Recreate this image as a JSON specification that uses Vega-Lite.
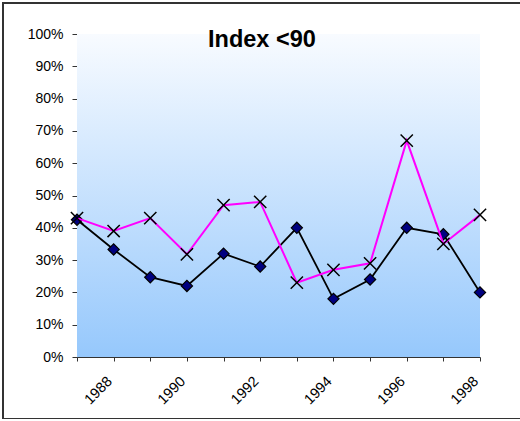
{
  "$schema": "https://vega.github.io/schema/vega-lite/v6.json",
  "width": 521,
  "height": 416,
  "padding": {"left": 3, "top": 3, "right": 0, "bottom": 0},
  "autosize": "none",
  "title": {
    "text": "Index <90",
    "font": "Liberation Sans",
    "fontSize": 23.5,
    "fontWeight": "bold",
    "color": "#000000",
    "anchor": "start",
    "dx": 205,
    "frame": "group",
    "baseline": "alphabetic",
    "offset": -67
  },
  "config": {
    "view": {"stroke": "#333333", "strokeWidth": 2, "fill": "#ffffff"},
    "axis": {
      "labelFont": "Liberation Sans",
      "labelFontSize": 14,
      "labelColor": "#000000",
      "domainColor": "#333333",
      "tickColor": "#333333",
      "grid": false,
      "title": null
    }
  },
  "data": {
    "values": [
      {"year": 1987, "series": "A", "value": 0.425},
      {"year": 1988, "series": "A", "value": 0.333},
      {"year": 1989, "series": "A", "value": 0.247},
      {"year": 1990, "series": "A", "value": 0.22},
      {"year": 1991, "series": "A", "value": 0.32},
      {"year": 1992, "series": "A", "value": 0.28},
      {"year": 1993, "series": "A", "value": 0.40},
      {"year": 1994, "series": "A", "value": 0.18},
      {"year": 1995, "series": "A", "value": 0.24},
      {"year": 1996, "series": "A", "value": 0.40},
      {"year": 1997, "series": "A", "value": 0.38},
      {"year": 1998, "series": "A", "value": 0.20},
      {"year": 1987, "series": "B", "value": 0.43},
      {"year": 1988, "series": "B", "value": 0.39},
      {"year": 1989, "series": "B", "value": 0.43},
      {"year": 1990, "series": "B", "value": 0.318},
      {"year": 1991, "series": "B", "value": 0.47},
      {"year": 1992, "series": "B", "value": 0.48},
      {"year": 1993, "series": "B", "value": 0.23},
      {"year": 1994, "series": "B", "value": 0.27},
      {"year": 1995, "series": "B", "value": 0.29},
      {"year": 1996, "series": "B", "value": 0.67},
      {"year": 1997, "series": "B", "value": 0.35},
      {"year": 1998, "series": "B", "value": 0.44}
    ]
  },
  "layer": [
    {
      "mark": {
        "type": "rect",
        "color": {
          "gradient": "linear",
          "x1": 0, "y1": 0, "x2": 0, "y2": 1,
          "stops": [
            {"offset": 0, "color": "#F8FBFF"},
            {"offset": 1, "color": "#96C8FC"}
          ]
        }
      },
      "encoding": {
        "x": {"aggregate": "min", "field": "year", "type": "quantitative"},
        "x2": {"aggregate": "max", "field": "year"},
        "y": {"datum": 1, "type": "quantitative"},
        "y2": {"datum": 0}
      }
    },
    {
      "transform": [{"filter": "datum.series === 'A'"}],
      "mark": {"type": "line", "color": "#000000", "strokeWidth": 1.8},
      "encoding": {
        "x": {"field": "year", "type": "quantitative"},
        "y": {"field": "value", "type": "quantitative"}
      }
    },
    {
      "transform": [{"filter": "datum.series === 'A'"}],
      "mark": {"type": "point", "shape": "diamond", "filled": true, "fill": "#000080", "stroke": "#000000", "strokeWidth": 1.2, "size": 125, "opacity": 1},
      "encoding": {
        "x": {"field": "year", "type": "quantitative"},
        "y": {"field": "value", "type": "quantitative"}
      }
    },
    {
      "transform": [{"filter": "datum.series === 'B'"}],
      "mark": {"type": "line", "color": "#FF00FF", "strokeWidth": 2},
      "encoding": {
        "x": {"field": "year", "type": "quantitative"},
        "y": {"field": "value", "type": "quantitative"}
      }
    },
    {
      "transform": [{"filter": "datum.series === 'B'"}],
      "mark": {"type": "point", "shape": "M-1,-1L1,1M-1,1L1,-1", "filled": false, "stroke": "#000000", "strokeWidth": 1.5, "size": 150, "opacity": 1},
      "encoding": {
        "x": {"field": "year", "type": "quantitative"},
        "y": {"field": "value", "type": "quantitative"}
      }
    }
  ],
  "resolve": {"scale": {"x": "shared", "y": "shared"}},
  "encoding": {
    "x": {
      "type": "quantitative",
      "scale": {"domain": [1987, 1998], "range": [74, 477], "nice": false, "zero": false},
      "axis": {
        "values": [1987, 1988, 1989, 1990, 1991, 1992, 1993, 1994, 1995, 1996, 1997, 1998],
        "format": "d",
        "labelExpr": "datum.value % 2 === 0 ? datum.label : ''",
        "labelAngle": -45,
        "labelAlign": "right",
        "labelBaseline": "middle",
        "labelFontSize": 14.5,
        "labelPadding": 18,
        "labelOffset": -4,
        "tickSize": 4,
        "offset": -62,
        "labelOverlap": false
      }
    },
    "y": {
      "type": "quantitative",
      "scale": {"domain": [0, 1], "range": [354, 31], "nice": false},
      "axis": {
        "values": [0, 0.1, 0.2, 0.3, 0.4, 0.5, 0.6, 0.7, 0.8, 0.9, 1],
        "format": ".0%",
        "tickSize": 5,
        "labelPadding": 9,
        "offset": -74,
        "labelOverlap": false
      }
    }
  }
}
